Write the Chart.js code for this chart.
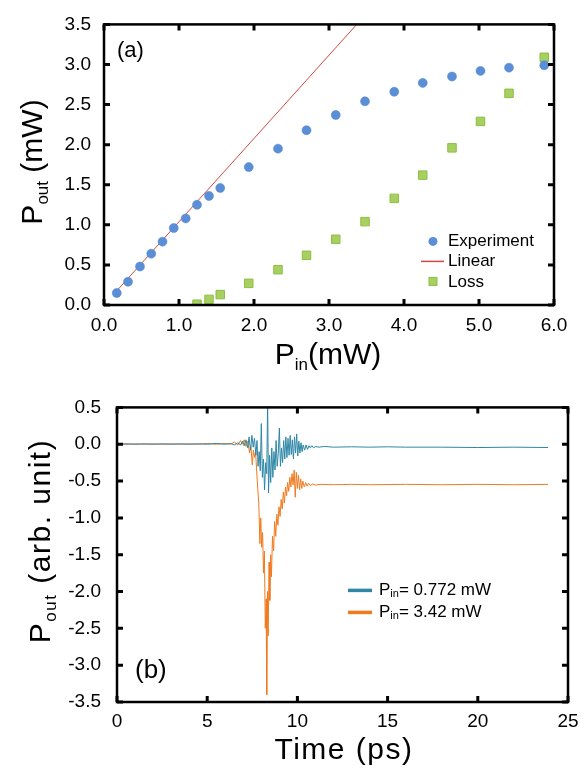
<!DOCTYPE html>
<html lang="en">
<head>
  <meta charset="UTF-8">
  <title>Pout vs Pin and time traces</title>
  <script src="https://cdn.jsdelivr.net/npm/chart.js@4"></script>
  <style>
    body { margin: 0; background: #fff; }
    canvas { display: block; }
  </style>
</head>
<body>
  <canvas id="chartA" width="587" height="380"></canvas>
  <canvas id="chartB" width="587" height="396"></canvas>

  <script>
    // (a) output power vs input power, mW
    const pinExp = [0.17, 0.32, 0.48, 0.63, 0.78, 0.93, 1.09, 1.24, 1.40, 1.55, 1.93, 2.32, 2.70, 3.09, 3.48, 3.87, 4.25, 4.64, 5.02, 5.40, 5.87];
    const poutExp = [0.15, 0.29, 0.48, 0.64, 0.79, 0.96, 1.08, 1.25, 1.36, 1.46, 1.72, 1.95, 2.18, 2.37, 2.54, 2.66, 2.77, 2.85, 2.92, 2.96, 2.99];
    const pinLoss = [1.24, 1.40, 1.55, 1.93, 2.32, 2.70, 3.09, 3.48, 3.87, 4.25, 4.64, 5.02, 5.40, 5.87];
    const poutLoss = [0.01, 0.07, 0.13, 0.27, 0.44, 0.62, 0.82, 1.04, 1.33, 1.62, 1.96, 2.29, 2.64, 3.09];
    const pinLinear = [0.15, 3.37];
    const poutLinear = [0.156, 3.5];
    const legendA = ['Experiment', 'Linear', 'Loss'];

    // (b) output traces, ps / arb. unit
    const tLow = [0, 0.5, 1, 1.5, 2, 2.5, 3, 3.5, 4, 4.5, 5, 5.5, 6, 6.3, 6.5, 6.7, 6.85, 6.95, 7.05, 7.15,
      7.25, 7.32, 7.4, 7.48, 7.55, 7.62, 7.7, 7.76, 7.82, 7.88, 7.94, 8.0, 8.06, 8.12, 8.18, 8.24, 8.3, 8.35, 8.4, 8.46,
      8.52, 8.58, 8.64, 8.7, 8.76, 8.82, 8.88, 8.94, 9.0, 9.06, 9.12, 9.18, 9.24, 9.3, 9.36, 9.42, 9.48, 9.54, 9.6, 9.66,
      9.72, 9.78, 9.84, 9.9, 9.96, 10.02, 10.08, 10.14, 10.2, 10.26, 10.32, 10.4, 10.48, 10.56, 10.64, 10.72, 10.8, 10.9, 11, 11.2,
      11.5, 12, 13, 14, 15, 16, 18, 20, 22, 23.9];
    const pLow = [0, 0.005, 0, 0.005, 0, 0.005, 0, 0.005, 0, 0.005, 0, 0.01, 0, 0.01, -0.01, 0.02, -0.01, 0.04, -0.02, 0.06,
      -0.05, 0.10, -0.08, 0.12, -0.04, 0.08, -0.15, 0.05, -0.30, -0.10, -0.36, 0.28, -0.45, -0.20, -0.62, -0.25, -0.40, 0.55, -0.66, -0.15,
      -0.52, -0.05, -0.45, -0.10, -0.35, 0.05, -0.30, -0.12, 0.22, -0.30, -0.05, -0.25, 0.05, -0.20, 0.10, -0.18, 0.08, -0.15, 0.12, -0.14,
      0.06, -0.20, 0.10, -0.12, 0.14, -0.16, 0.04, -0.12, 0.02, -0.10, -0.01, -0.08, -0.01, -0.07, -0.02, -0.05, -0.02, -0.05, -0.03, -0.04,
      -0.03, -0.04, -0.035, -0.04, -0.035, -0.04, -0.04, -0.045, -0.04, -0.045];
    const tHigh = [0, 0.5, 1, 1.5, 2, 2.5, 3, 3.5, 4, 4.5, 5, 5.5, 6, 6.3, 6.5, 6.7, 6.85, 6.95, 7.05, 7.15,
      7.25, 7.35, 7.42, 7.5, 7.56, 7.62, 7.68, 7.74, 7.8, 7.86, 7.92, 7.97, 8.02, 8.07, 8.12, 8.17, 8.22, 8.27, 8.3, 8.34,
      8.38, 8.43, 8.47, 8.52, 8.56, 8.62, 8.68, 8.74, 8.8, 8.86, 8.92, 8.98, 9.04, 9.1, 9.16, 9.22, 9.28, 9.34, 9.4, 9.46,
      9.52, 9.58, 9.64, 9.7, 9.76, 9.82, 9.88, 9.94, 10.0, 10.06, 10.12, 10.18, 10.24, 10.3, 10.38, 10.46, 10.54, 10.62, 10.72, 10.85,
      11, 11.3, 12, 13, 14, 16, 18, 20, 22, 23.9];
    const pHigh = [0, 0, 0.005, 0, 0.005, 0, 0.005, 0, 0.005, 0, 0.01, 0, 0.01, 0, 0.03, -0.01, 0.05, 0, 0.06, -0.03,
      0.04, -0.12, -0.02, -0.28, -0.08, -0.18, -0.10, -0.35, -0.60, -0.80, -1.35, -1.00, -1.40, -1.20, -1.75, -1.45, -2.50, -2.10, -3.40, -2.00,
      -2.60, -1.60, -2.12, -1.50, -1.80, -1.25, -1.45, -1.05, -1.25, -0.95, -1.10, -0.85, -0.98, -0.75, -0.88, -0.65, -0.80, -0.58, -0.70, -0.52,
      -0.64, -0.45, -0.58, -0.40, -0.55, -0.35, -0.72, -0.38, -0.60, -0.42, -0.62, -0.47, -0.60, -0.50, -0.58, -0.52, -0.57, -0.53, -0.56, -0.54,
      -0.555, -0.545, -0.55, -0.545, -0.55, -0.545, -0.55, -0.545, -0.55, -0.545];
    const legendB = ['0.772 mW', '3.42 mW'];

    const FONT = '"Liberation Sans", Arial, Helvetica, sans-serif';
    Chart.defaults.font.family = FONT;
    Chart.defaults.color = '#000';

    const pairs = (xs, ys) => xs.map((v, i) => ({ x: v, y: ys[i] }));

    // text with subscripts: parts = [{text, size, dy}]
    function drawRich(ctx, parts, x, y, align, spacing) {
      ctx.save();
      ctx.letterSpacing = (spacing || 0) + 'px';
      let w = 0;
      parts.forEach(p => {
        ctx.font = p.size + 'px ' + FONT;
        w += ctx.measureText(p.text).width;
      });
      let cx = align === 'center' ? x - w / 2 : x;
      ctx.textAlign = 'left';
      parts.forEach(p => {
        ctx.font = p.size + 'px ' + FONT;
        ctx.fillText(p.text, cx, y + (p.dy || 0));
        cx += ctx.measureText(p.text).width;
      });
      ctx.restore();
    }

    // box around plot + inward ticks on all four sides
    const frameTicks = {
      id: 'frameTicks',
      afterDatasetsDraw(chart) {
        const { ctx, chartArea: a, scales: { x, y } } = chart;
        const len = 6;
        ctx.save();
        ctx.strokeStyle = '#000';
        ctx.lineWidth = 2.5;
        ctx.strokeRect(a.left, a.top, a.right - a.left, a.bottom - a.top);
        ctx.lineWidth = 3;
        ctx.beginPath();
        x.ticks.forEach(t => {
          const px = x.getPixelForValue(t.value);
          ctx.moveTo(px, a.bottom); ctx.lineTo(px, a.bottom - len);
          ctx.moveTo(px, a.top); ctx.lineTo(px, a.top + len);
        });
        y.ticks.forEach(t => {
          const py = y.getPixelForValue(t.value);
          ctx.moveTo(a.left, py); ctx.lineTo(a.left + len, py);
          ctx.moveTo(a.right, py); ctx.lineTo(a.right - len, py);
        });
        ctx.stroke();
        ctx.restore();
      }
    };

    const textA = {
      id: 'textA',
      afterDraw(chart) {
        const { ctx, chartArea: a } = chart;
        const ds = chart.data.datasets;
        ctx.save();
        ctx.fillStyle = '#000';
        ctx.textBaseline = 'alphabetic';
        // axis titles
        drawRich(ctx, [{ text: 'P', size: 30 }, { text: 'in', size: 17, dy: 6 }, { text: '(mW)', size: 30 }], 328, 364, 'center');
        ctx.save();
        ctx.translate(42, 162);
        ctx.rotate(-Math.PI / 2);
        drawRich(ctx, [{ text: 'P', size: 30 }, { text: 'out', size: 17, dy: 6 }, { text: ' (mW)', size: 30 }], 0, 0, 'center');
        ctx.restore();
        // panel label
        ctx.textBaseline = 'middle';
        ctx.font = '22px ' + FONT;
        ctx.fillText('(a)', a.left + 13, a.top + 27);
        // legend
        const lx = a.right - 121, ly = a.top + 217;
        ctx.fillStyle = ds[0].backgroundColor;
        ctx.beginPath(); ctx.arc(lx, ly, 4.5, 0, Math.PI * 2); ctx.fill();
        ctx.strokeStyle = ds[1].borderColor; ctx.lineWidth = 1.5;
        ctx.beginPath(); ctx.moveTo(lx - 12, ly + 20); ctx.lineTo(lx + 11, ly + 20); ctx.stroke();
        ctx.fillStyle = ds[2].backgroundColor; ctx.strokeStyle = ds[2].borderColor; ctx.lineWidth = 1;
        ctx.fillRect(lx - 4, ly + 36, 8, 8); ctx.strokeRect(lx - 4, ly + 36, 8, 8);
        ctx.fillStyle = '#000';
        ctx.font = '17px ' + FONT;
        legendA.forEach((s, i) => ctx.fillText(s, lx + 15, ly + i * 20 + (i === 2 ? 1 : 0)));
        ctx.restore();
      }
    };

    const textB = {
      id: 'textB',
      afterDraw(chart) {
        const { ctx, chartArea: a } = chart;
        const ds = chart.data.datasets;
        ctx.save();
        ctx.fillStyle = '#000';
        ctx.textBaseline = 'alphabetic';
        drawRich(ctx, [{ text: 'Time (ps)', size: 30 }], 344, 379, 'center', 1.5);
        ctx.save();
        ctx.translate(50, 161);
        ctx.rotate(-Math.PI / 2);
        drawRich(ctx, [{ text: 'P', size: 30 }, { text: 'out', size: 17, dy: 6 }, { text: ' (arb. unit)', size: 30 }], 0, 0, 'center', 1.5);
        ctx.restore();
        ctx.textBaseline = 'middle';
        ctx.font = '26px ' + FONT;
        ctx.fillText('(b)', a.left + 18, a.top + 263);
        // legend
        const lx = a.left + 231, ly = a.top + 183;
        ctx.lineWidth = 3.5;
        legendB.forEach((s, i) => {
          const yy = ly + i * 22;
          ctx.strokeStyle = ds[i].borderColor;
          ctx.beginPath(); ctx.moveTo(lx, yy); ctx.lineTo(lx + 24, yy); ctx.stroke();
          drawRich(ctx, [{ text: 'P', size: 17 }, { text: 'in', size: 11, dy: 4 }, { text: '= ' + s, size: 17 }], lx + 31, yy, 'left');
        });
        ctx.restore();
      }
    };

    const chartA = new Chart(document.getElementById('chartA'), {
      type: 'scatter',
      data: {
        datasets: [
          {
            label: 'Experiment',
            data: pairs(pinExp, poutExp),
            pointStyle: 'circle',
            pointRadius: 4.5,
            backgroundColor: '#5a8fd8',
            borderColor: '#4b80cc',
            borderWidth: 0.5
          },
          {
            label: 'Linear',
            data: pairs(pinLinear, poutLinear),
            showLine: true,
            borderColor: '#d4493f',
            borderWidth: 1,
            pointRadius: 0
          },
          {
            label: 'Loss',
            data: pairs(pinLoss, poutLoss),
            pointStyle: 'rect',
            pointRadius: 6,
            backgroundColor: '#a6d160',
            borderColor: '#8fbd45',
            borderWidth: 1
          }
        ]
      },
      options: {
        responsive: false,
        animation: false,
        devicePixelRatio: 1,
        layout: { padding: { top: 16, right: 33, left: 0, bottom: 0 } },
        plugins: { legend: { display: false }, tooltip: { enabled: false } },
        scales: {
          x: {
            type: 'linear', min: 0, max: 6,
            afterFit: s => { s.height = 75; },
            grid: { display: false, drawTicks: false },
            border: { display: false },
            ticks: { stepSize: 1, padding: 9, autoSkip: false, maxRotation: 0, font: { size: 19 }, callback: v => v.toFixed(1) }
          },
          y: {
            min: 0, max: 3.5,
            afterFit: s => { s.width = 104; },
            grid: { display: false, drawTicks: false },
            border: { display: false },
            ticks: { stepSize: 0.5, padding: 13, autoSkip: false, font: { size: 19 }, callback: v => v.toFixed(1) }
          }
        }
      },
      plugins: [frameTicks, textA]
    });

    const chartB = new Chart(document.getElementById('chartB'), {
      type: 'line',
      data: {
        datasets: [
          {
            label: 'Pin= 0.772 mW',
            data: pairs(tLow, pLow),
            borderColor: '#2f87a7',
            borderWidth: 1,
            pointRadius: 0,
            tension: 0
          },
          {
            label: 'Pin= 3.42 mW',
            data: pairs(tHigh, pHigh),
            borderColor: '#f07b20',
            borderWidth: 1,
            pointRadius: 0,
            tension: 0
          }
        ]
      },
      options: {
        responsive: false,
        animation: false,
        devicePixelRatio: 1,
        layout: { padding: { top: 23, right: 19, left: 0, bottom: 0 } },
        plugins: { legend: { display: false }, tooltip: { enabled: false } },
        scales: {
          x: {
            type: 'linear', min: 0, max: 25,
            afterFit: s => { s.height = 74; },
            grid: { display: false, drawTicks: false },
            border: { display: false },
            ticks: { stepSize: 5, padding: 8, autoSkip: false, maxRotation: 0, font: { size: 19 } }
          },
          y: {
            min: -3.5, max: 0.5,
            afterFit: s => { s.width = 117; },
            grid: { display: false, drawTicks: false },
            border: { display: false },
            ticks: { stepSize: 0.5, padding: 16, autoSkip: false, font: { size: 19 }, callback: v => v.toFixed(1) }
          }
        }
      },
      plugins: [frameTicks, textB]
    });
  </script>
</body>
</html>
